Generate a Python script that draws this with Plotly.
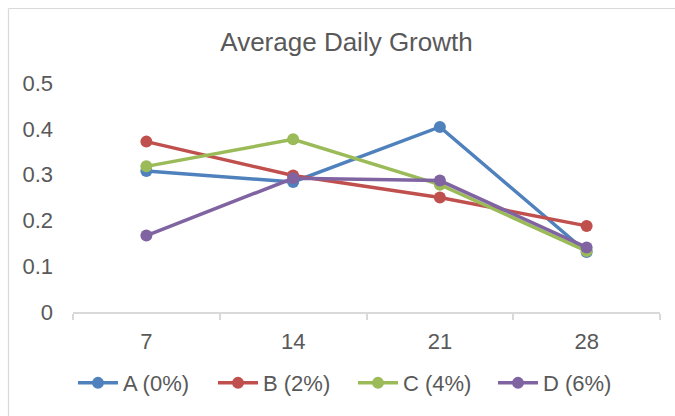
import plotly.graph_objects as go

days = [7, 14, 21, 28]
day_labels = ["7", "14", "21", "28"]
series_names = ["A (0%)", "B (2%)", "C (4%)", "D (6%)"]
a_vals = [0.308, 0.284, 0.404, 0.131]
b_vals = [0.372, 0.298, 0.250, 0.188]
c_vals = [0.318, 0.377, 0.278, 0.133]
d_vals = [0.167, 0.292, 0.287, 0.141]
colors = ["#4F81BD", "#C0504D", "#9BBB59", "#8064A2"]
y_ticks = [0, 0.1, 0.2, 0.3, 0.4, 0.5]
y_labels = ["0", "0.1", "0.2", "0.3", "0.4", "0.5"]

FONT = "Liberation Sans, Arial, sans-serif"
GREY = "#595959"

fig = go.Figure()
for name, vals, col in zip(series_names, [a_vals, b_vals, c_vals, d_vals], colors):
    fig.add_trace(go.Scatter(
        x=days, y=vals, name=name, mode="lines+markers",
        line=dict(color=col, width=3.5),
        marker=dict(color=col, size=12),
        cliponaxis=False,
    ))

step = days[1] - days[0]
boundaries = [d - step / 2 for d in days] + [days[-1] + step / 2]

fig.update_layout(
    width=675, height=416,
    margin=dict(l=73, r=15, t=83, b=101),
    paper_bgcolor="white", plot_bgcolor="white",
    font=dict(family=FONT, color=GREY, size=22),
    title=dict(text="Average Daily Growth", x=346.5/675, xref="container", xanchor="center",
               y=1 - 42/416, yref="container", yanchor="middle",
               font=dict(size=26, color=GREY, family=FONT)),
    showlegend=True,
    legend=dict(orientation="h", x=0.0, xanchor="left", y=(315 - 387) / 232, yanchor="middle",
                entrywidth=85, entrywidthmode="pixels", bgcolor="rgba(0,0,0,0)",
                font=dict(size=22, color=GREY, family=FONT), itemwidth=40),
    xaxis=dict(range=[boundaries[0], boundaries[-1]], tickvals=days, ticktext=day_labels,
               showline=True, linecolor="#D9D9D9", linewidth=1.5,
               ticks="", ticklabelstandoff=9, showgrid=False, zeroline=False,
               minor=dict(tickvals=boundaries, ticks="outside", ticklen=6,
                          tickcolor="#D9D9D9", tickwidth=1.5, showgrid=False),
               tickfont=dict(size=22, color=GREY, family=FONT)),
    yaxis=dict(range=[0, 0.5], tickvals=y_ticks, ticktext=y_labels,
               showgrid=False, zeroline=False, showline=False,
               ticklabelstandoff=19,
               tickfont=dict(size=22, color=GREY, family=FONT)),
    shapes=[
        dict(type="line", xref="paper", yref="paper",
             x0=(8.5 - 73) / 587, x1=(8.5 - 73) / 587,
             y0=(315 - 460) / 232, y1=(315 - 7.5) / 232,
             line=dict(color="#D9D9D9", width=1.2), layer="below"),
        dict(type="line", xref="paper", yref="paper",
             x0=(8.5 - 73) / 587, x1=(720 - 73) / 587,
             y0=(315 - 7.5) / 232, y1=(315 - 7.5) / 232,
             line=dict(color="#D9D9D9", width=1.2), layer="below"),
    ],
)

fig.write_html("out.html", config={"displayModeBar": False},
               post_script="document.body.style.margin='0';")
